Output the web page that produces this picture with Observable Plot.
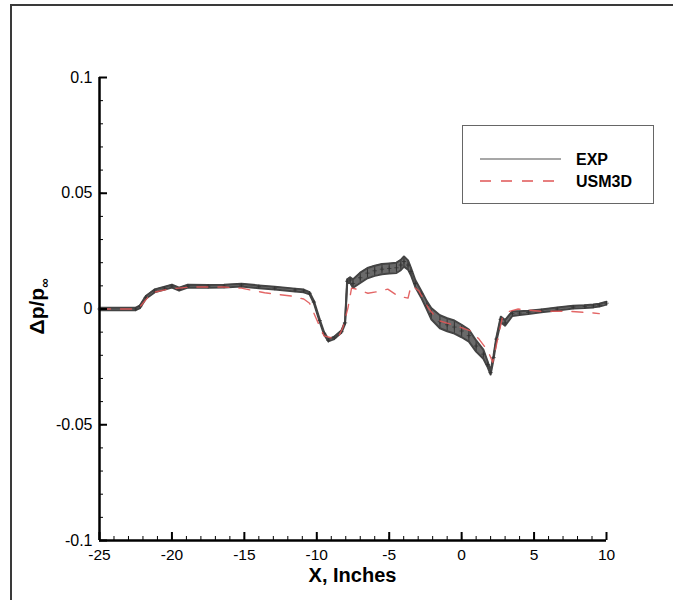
<!DOCTYPE html>
<html><head><meta charset="utf-8">
<script src="https://cdn.jsdelivr.net/npm/d3@7"></script>
<script src="https://cdn.jsdelivr.net/npm/@observablehq/plot@0.6"></script>
<style>
body{margin:0;background:#fff;}
#wrap{position:relative;width:673px;height:600px;overflow:hidden;font-family:"Liberation Sans",Arial,Helvetica,sans-serif;}
#frame{position:absolute;left:10px;top:4px;width:700px;height:700px;border-top:2px solid #3a3a3a;border-left:2px solid #3a3a3a;pointer-events:none;}
#legend{position:absolute;left:462px;top:125px;width:190px;height:77px;border:1.5px solid #666;background:#fff;}
#legend text{font-family:"Liberation Sans",Arial,Helvetica,sans-serif;}
</style></head><body>
<div id="wrap"></div>
<script>
// ---- data ----
const xDomain = [-25, 10];
const yDomain = [-0.1, 0.1];
const xTicks = [-25, -20, -15, -10, -5, 0, 5, 10];
const xTickLabels = ["-25", "-20", "-15", "-10", "-5", "0", "5", "10"];
const yTicks = [-0.1, -0.05, 0, 0.05, 0.1];
const yTickLabels = ["-0.1", "-0.05", "0", "0.05", "0.1"];
const seriesNames = ["EXP", "USM3D"];

const expX = [-25, -22.5, -22.2, -21.8, -21.2, -20.5, -20, -19.5, -18.9, -17.5, -16.4, -15.2, -14, -12.9, -11.5, -10.9, -10.5, -10.2, -9.8, -9.5, -9.2, -8.8, -8.3, -8.05, -7.9, -7.7, -7.5, -7.0, -6.5, -6.0, -5.5, -5.0, -4.5, -4.2, -3.98, -3.7, -3.5, -3.2, -2.8, -2.4, -2.1, -1.5, -1.0, -0.5, 0, 0.5, 1.0, 1.5, 1.8, 2.0, 2.2, 2.4, 2.7, 3.0, 3.5, 4.0, 4.6, 5.5, 6.6, 7.7, 8.5, 9.1, 9.5, 10];
const expY = [0, 0, 0.001, 0.005, 0.0078, 0.009, 0.0099, 0.0086, 0.0099, 0.0098, 0.0099, 0.0103, 0.0096, 0.009, 0.0082, 0.0078, 0.0068, 0.003, -0.005, -0.0105, -0.0135, -0.0125, -0.0098, -0.006, 0.012, 0.0125, 0.011, 0.0135, 0.0155, 0.0165, 0.0172, 0.0175, 0.0178, 0.019, 0.0205, 0.019, 0.0162, 0.011, 0.0065, 0.0015, -0.002, -0.0055, -0.0068, -0.0078, -0.0095, -0.0115, -0.016, -0.0195, -0.024, -0.0275, -0.021, -0.013, -0.0045, -0.006, -0.002, -0.0018, -0.0015, -0.0008, 0, 0.0008, 0.001, 0.0013, 0.0017, 0.0025];
const expHalf = [0.0005, 0.0005, 0.0006, 0.0006, 0.0006, 0.0006, 0.0006, 0.0006, 0.0006, 0.0006, 0.0006, 0.0006, 0.0006, 0.0006, 0.0006, 0.0006, 0.0005, 0.0005, 0.0005, 0.0005, 0.0005, 0.0005, 0.0005, 0.0005, 0.0008, 0.0012, 0.0018, 0.0022, 0.0022, 0.0022, 0.0022, 0.0022, 0.0022, 0.0022, 0.0022, 0.002, 0.0016, 0.0015, 0.0015, 0.0018, 0.0024, 0.0028, 0.0028, 0.0028, 0.0027, 0.0026, 0.0024, 0.002, 0.0012, 0.0008, 0.0008, 0.0008, 0.0012, 0.0012, 0.001, 0.0008, 0.0007, 0.0006, 0.0006, 0.0006, 0.0006, 0.0006, 0.0006, 0.0006];

const usmX = [-25, -22.5, -22.2, -21.4, -20.25, -18.7, -16.4, -15.2, -13.6, -11.77, -10.9, -10.5, -10.05, -9.5, -8.8, -8.5, -8.2, -7.85, -7.6, -7.2, -6.47, -5.8, -5.1, -4.4, -3.7, -3.5, -3.3, -2.95, -2.3, -1.6, -0.5, 0.63, 1.2, 1.8, 2.15, 2.5, 2.8, 3.3, 3.9, 5.45, 7.3, 8.7, 9.1, 9.5];
const usmY = [0, 0, 0.001, 0.007, 0.0086, 0.0095, 0.0095, 0.009, 0.007, 0.0056, 0.0043, 0.0025, -0.004, -0.0116, -0.0128, -0.012, -0.008, 0.0004, 0.009, 0.0085, 0.0068, 0.0075, 0.0086, 0.0056, 0.0047, 0.01, 0.0095, 0.0078, 0.0004, -0.005, -0.007, -0.0095, -0.013, -0.018, -0.023, -0.0125, -0.004, -0.001, 0, -0.001, -0.001, -0.0015, -0.0017, -0.002];

// ---- tables ----
const exp = expX.map((x, i) => ({x, y: expY[i], lo: expY[i] - expHalf[i], hi: expY[i] + expHalf[i]}));
const usm = usmX.map((x, i) => ({x, y: usmY[i]}));
const xMinor = d3.range(xDomain[0], xDomain[1] + 0.001, 1);
const yMinor = d3.range(-10, 11).map(k => k / 100);

const expColor = "#444";
const usmColor = "#e05555";
const usmDash = "11,10";

const plot = Plot.plot({
  width: 673,
  height: 600,
  marginLeft: 99,
  marginRight: 67,
  marginTop: 77,
  marginBottom: 60,
  style: {fontFamily: "Liberation Sans, Arial, Helvetica, sans-serif", fontSize: "16px", color: "#000", background: "transparent"},
  x: {domain: xDomain, label: null},
  y: {domain: yDomain, label: null},
  marks: [
    Plot.areaY(exp, {x: "x", y1: "lo", y2: "hi", fill: "#6a6a6a"}),
    Plot.ruleX(exp, {x: "x", y1: "lo", y2: "hi", stroke: "#2a2a2a", strokeWidth: 0.8}),
    Plot.line(exp, {x: "x", y: "lo", stroke: expColor, strokeWidth: 2}),
    Plot.line(exp, {x: "x", y: "hi", stroke: expColor, strokeWidth: 2}),
    Plot.dot(exp, {x: "x", y: "y", symbol: "plus", r: 1.5, stroke: "#333", strokeWidth: 0.8}),
    Plot.line(usm, {x: "x", y: "y", stroke: usmColor, strokeWidth: 1.4, strokeDasharray: usmDash, strokeOpacity: 0.9}),
    Plot.ruleX([xDomain[0]], {stroke: "#000", strokeWidth: 2.5}),
    Plot.ruleY([yDomain[0]], {stroke: "#000", strokeWidth: 2.5}),
    Plot.axisX({ticks: xTicks, tickSize: 8, dy: -8, strokeWidth: 2, tickFormat: () => "", label: null}),
    Plot.axisX({ticks: xMinor, tickSize: 4, dy: -4, strokeWidth: 1, tickFormat: () => "", label: null}),
    Plot.axisX({ticks: xTicks, tickSize: 0, tickPadding: 8, fontSize: 15.5, tickFormat: d => xTickLabels[xTicks.indexOf(d)], label: null}),
    Plot.axisY({ticks: yTicks, tickSize: 8, dx: 8, strokeWidth: 2, tickFormat: () => "", label: null}),
    Plot.axisY({ticks: yMinor, tickSize: 4, dx: 4, strokeWidth: 1, tickFormat: () => "", label: null}),
    Plot.axisY({ticks: yTicks, tickSize: 0, tickPadding: 7, fontSize: 16, tickFormat: d => yTickLabels[yTicks.indexOf(d)], label: null})
  ]
});

const wrap = document.getElementById("wrap");
wrap.appendChild(plot);

const svg = d3.select(plot);
const xs = plot.scale("x"), ys = plot.scale("y");

svg.append("text")
  .attr("x", (xs.apply(xDomain[0]) + xs.apply(xDomain[1])) / 2)
  .attr("y", 582)
  .attr("text-anchor", "middle")
  .attr("font-weight", "bold")
  .attr("font-size", 20)
  .attr("fill", "#000")
  .text("X, Inches");

const yl = svg.append("text")
  .attr("transform", `translate(44, ${ys.apply(0) - 2}) rotate(-90)`)
  .attr("text-anchor", "middle")
  .attr("font-weight", "bold")
  .attr("font-size", 21)
  .attr("fill", "#000");
yl.append("tspan").text("Δp/p");
yl.append("tspan").attr("font-size", 13).attr("dy", 5).text("∞");

d3.select(wrap).append("div").attr("id", "frame");

const leg = d3.select(wrap).append("div").attr("id", "legend");
const ls = leg.append("svg").attr("width", 190).attr("height", 77);
const legColors = ["#8a8a8a", usmColor];
const legDash = [null, usmDash];
seriesNames.forEach((name, i) => {
  const y = 33 + i * 22;
  ls.append("line").attr("x1", 17).attr("x2", 98).attr("y1", y).attr("y2", y)
    .attr("stroke", legColors[i]).attr("stroke-width", 1.5).attr("stroke-dasharray", legDash[i]);
  ls.append("text").attr("x", 113).attr("y", y + 5.5).attr("font-weight", "bold").attr("font-size", 16).attr("fill", "#000").text(name);
});
</script>
</body></html>
